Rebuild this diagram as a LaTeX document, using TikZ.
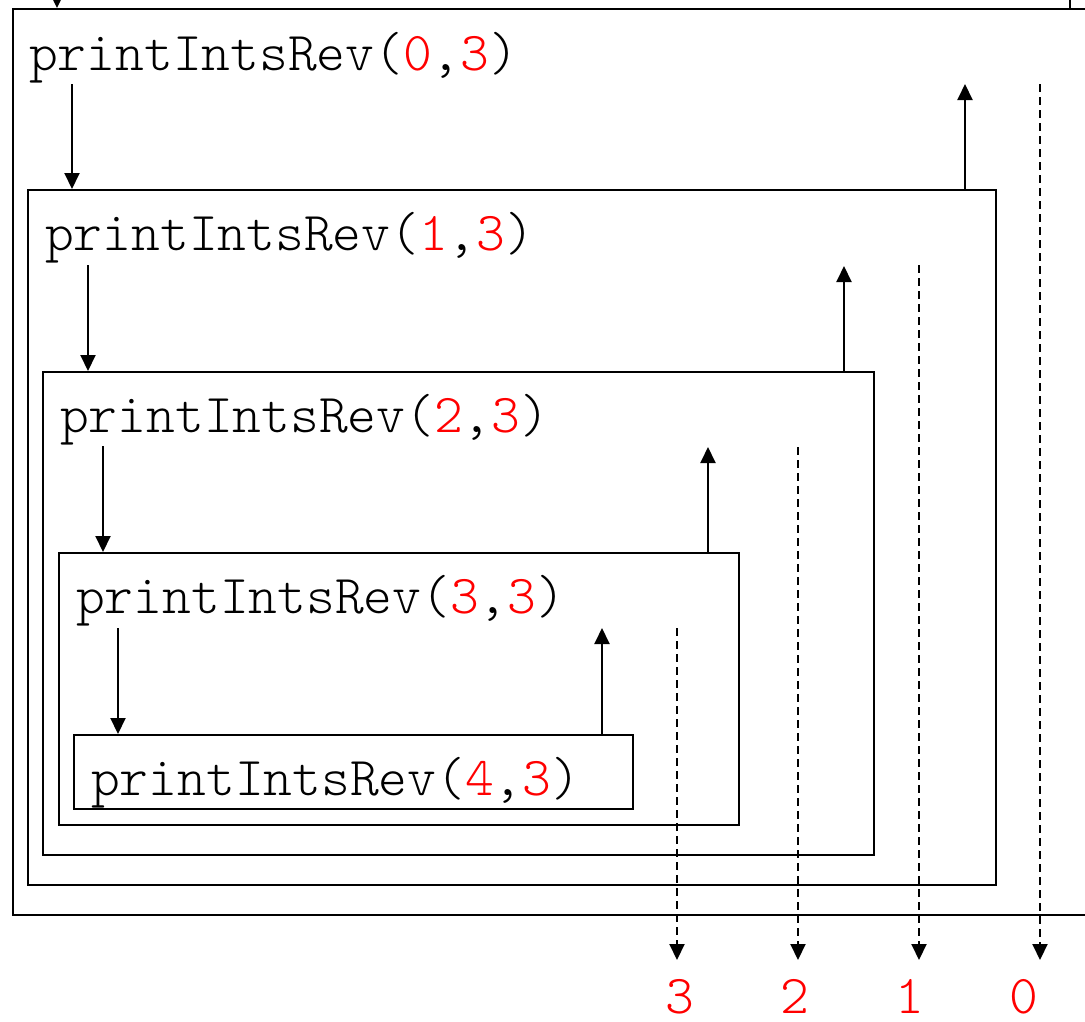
\documentclass[tikz,border=0pt]{standalone}
\usepackage{fontspec}
\newfontfamily\codefont{Latin Modern Mono Light}
\usetikzlibrary{arrows.meta}
\definecolor{argred}{RGB}{255,0,0}
\begin{document}
\begin{tikzpicture}[x=1pt,y=-1pt,
  frame/.style={draw=black, line width=2pt, inner sep=0pt, anchor=north west},
  call/.style={anchor=base west, inner sep=0pt, font=\codefont\fontsize{54.8}{55}\selectfont},
  result/.style={anchor=base, inner sep=0pt, text=argred, font=\codefont\fontsize{54.8}{55}\selectfont},
  arr/.style={line width=2pt, -{Triangle[length=16pt,width=15pt]}},
  ret/.style={line width=2pt, dashed, dash pattern=on 8pt off 5pt, -{Triangle[length=16pt,width=15pt]}}]
\useasboundingbox (0,0) rectangle (1085,1021);
% frames
\node[frame, minimum width=1100pt, minimum height=906pt] (f0) at (12,8) {};
\node[frame, minimum width=968pt, minimum height=695pt] (f1) at (27,189) {};
\node[frame, minimum width=831pt, minimum height=483pt] (f2) at (42,371) {};
\node[frame, minimum width=680pt, minimum height=272pt] (f3) at (58,552) {};
\node[frame, minimum width=559pt, minimum height=74pt] (f4) at (73,734) {};
% calls
\node[call] (c0) at (29,70) {printIntsRev(\textcolor{argred}{0},\textcolor{argred}{3})};
\node[call] (c1) at (45,250) {printIntsRev(\textcolor{argred}{1},\textcolor{argred}{3})};
\node[call] (c2) at (60,432) {printIntsRev(\textcolor{argred}{2},\textcolor{argred}{3})};
\node[call] (c3) at (76,613) {printIntsRev(\textcolor{argred}{3},\textcolor{argred}{3})};
\node[call] (c4) at (91,795) {printIntsRev(\textcolor{argred}{4},\textcolor{argred}{3})};
% results
\node[result] (r3) at (680,1013) {3};
\node[result] (r2) at (795,1013) {2};
\node[result] (r1) at (910,1013) {1};
\node[result] (r0) at (1024,1013) {0};
% coordinates
\coordinate (in0) at (57,-2);
\coordinate (out0) at (1070,-2);
\coordinate (d0) at (72,84);
\coordinate (d1) at (88,265);
\coordinate (d2) at (103,446);
\coordinate (d3) at (118,628);
\coordinate (u1) at (965,84);
\coordinate (u2) at (844,266);
\coordinate (u3) at (708,447);
\coordinate (u4) at (602,628);
\coordinate (s0) at (1040,84);
\coordinate (s1) at (919,265);
\coordinate (s2) at (798,447);
\coordinate (s3) at (677,628);
\coordinate (e0) at (1040,960);
\coordinate (e1) at (919,960);
\coordinate (e2) at (798,960);
\coordinate (e3) at (677,960);
% calls down
\draw[arr] (in0) -- (in0 |- f0.north);
\draw[arr] (d0) -- (d0 |- f1.north);
\draw[arr] (d1) -- (d1 |- f2.north);
\draw[arr] (d2) -- (d2 |- f3.north);
\draw[arr] (d3) -- (d3 |- f4.north);
% returns up
\draw[line width=2pt] (out0 |- f0.north) -- (out0);
\draw[arr] (u1 |- f1.north) -- (u1);
\draw[arr] (u2 |- f2.north) -- (u2);
\draw[arr] (u3 |- f3.north) -- (u3);
\draw[arr] (u4 |- f4.north) -- (u4);
% printed values
\draw[ret] (s0) -- (e0);
\draw[ret] (s1) -- (e1);
\draw[ret] (s2) -- (e2);
\draw[ret] (s3) -- (e3);
\end{tikzpicture}
\end{document}
